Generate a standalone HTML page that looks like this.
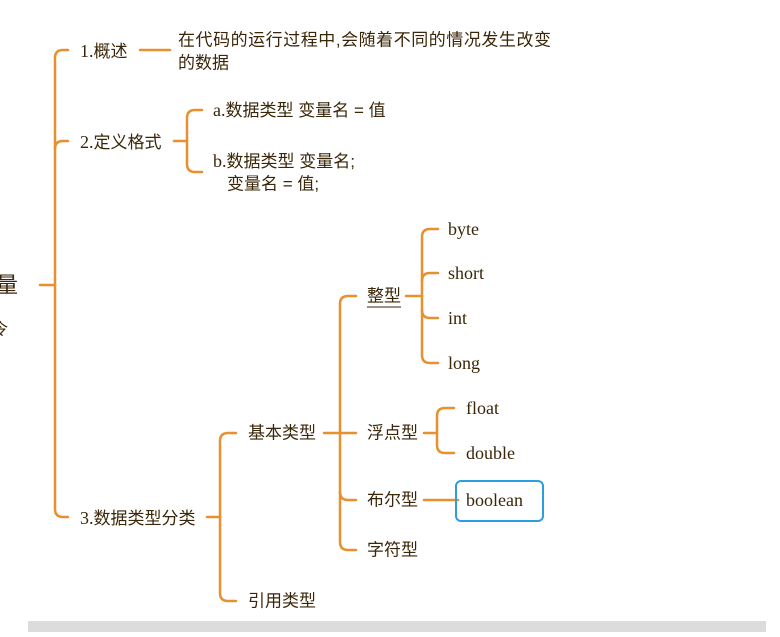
<!DOCTYPE html>
<html><head><meta charset="utf-8"><style>
html,body{margin:0;padding:0;background:#fff;width:780px;height:637px;overflow:hidden}
svg text{font-family:"Liberation Serif","Noto Sans CJK SC",serif;font-size:18px;fill:#3a2608;dominant-baseline:central}
.c{font-family:"Liberation Sans","Noto Sans CJK SC",sans-serif;font-size:17px}
</style></head><body>
<svg width="780" height="637" viewBox="0 0 780 637" xmlns="http://www.w3.org/2000/svg">
<g fill="none" stroke="#e8902f" stroke-width="2.5" stroke-linecap="round">
<path d="M40 285H55"/>
<path d="M68 50H63Q55 50 55 58V509Q55 517 63 517H68"/>
<path d="M55 149Q55 141 63 141H68"/>
<path d="M140 50H170"/>
<path d="M174 141H187"/>
<path d="M202 110H195Q187 110 187 118V164Q187 172 195 172H202"/>
<path d="M207 517H220"/>
<path d="M236 433H228Q220 433 220 441V593Q220 601 228 601H236"/>
<path d="M324 433H356"/>
<path d="M356 296H348Q340 296 340 304V542Q340 550 348 550H356"/>
<path d="M340 492Q340 500 348 500H356"/>
<path d="M406 296H422"/>
<path d="M438 229H430Q422 229 422 237V355Q422 363 430 363H438"/>
<path d="M422 281Q422 273 430 273H438"/><path d="M422 310Q422 318 430 318H438"/>
<path d="M424 433H437"/>
<path d="M454 408H445Q437 408 437 416V445Q437 453 445 453H454"/>
<path d="M424 500H458"/>
</g>
<rect x="456" y="481" width="87" height="40" rx="5" fill="none" stroke="#2a9ee0" stroke-width="2"/>
<text x="-4" y="285" class="c" style="font-size:22px">量</text>
<text x="-8" y="330" class="c" style="font-size:16px">令</text>
<text x="80" y="51">1.<tspan class="c">概述</tspan></text>
<text x="178" y="40" class="c" textLength="373">在代码的运行过程中,会随着不同的情况发生改变</text>
<text x="178" y="63" class="c">的数据</text>
<text x="80" y="142">2.<tspan class="c">定义格式</tspan></text>
<text x="213" y="110">a.<tspan class="c">数据类型 变量名 = 值</tspan></text>
<text x="213" y="161">b.<tspan class="c">数据类型 变量名;</tspan></text>
<text x="227" y="184" class="c">变量名 = 值;</text>
<text x="80" y="518">3.<tspan class="c">数据类型分类</tspan></text>
<text x="248" y="433" class="c">基本类型</text>
<text x="248" y="601" class="c">引用类型</text>
<text x="367" y="296" class="c">整型</text>
<line x1="367" y1="307" x2="401" y2="307" stroke="#3a2608" stroke-width="1"/>
<text x="367" y="433" class="c">浮点型</text>
<text x="367" y="500" class="c">布尔型</text>
<text x="367" y="550" class="c">字符型</text>
<text x="448" y="229">byte</text>
<text x="448" y="273">short</text>
<text x="448" y="318">int</text>
<text x="448" y="363">long</text>
<text x="466" y="408">float</text>
<text x="466" y="453">double</text>
<text x="466" y="500">boolean</text>
<rect x="28" y="621" width="738" height="11" fill="#dcdcdc"/>
</svg>
</body></html>
